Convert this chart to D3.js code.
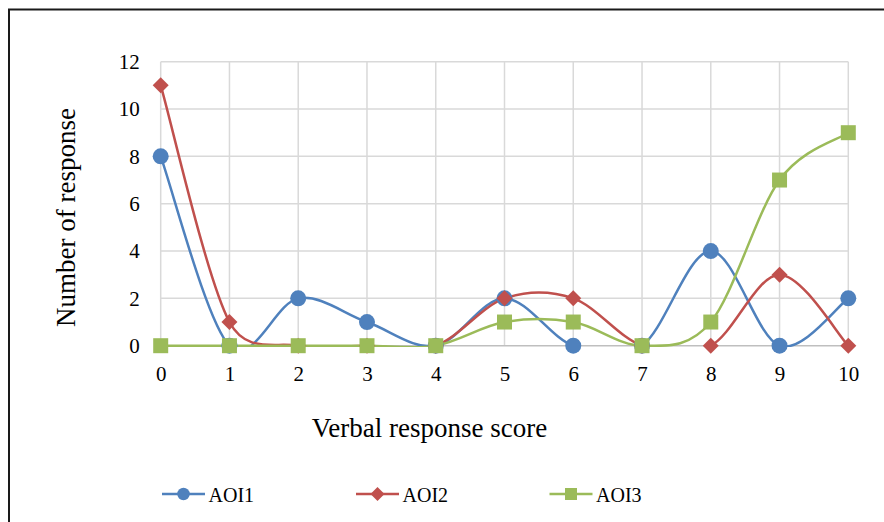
<!DOCTYPE html>
<html><head><meta charset="utf-8">
<script src="https://cdn.jsdelivr.net/npm/d3@7"></script>
<style>body{margin:0;background:#fff}svg{display:block}</style>
</head><body><svg id="c" width="884" height="522"></svg>
<script>
const categories = [0,1,2,3,4,5,6,7,8,9,10];
const aoi1 = [8,0,2,1,0,2,0,0,4,0,2];
const aoi2 = [11,1,0,0,0,2,2,0,0,3,0];
const aoi3 = [0,0,0,0,0,1,1,0,1,7,9];
const yTicks = [0,2,4,6,8,10,12];
const seriesNames = ["AOI1","AOI2","AOI3"];
const colors = ["#4f81bd","#c0504d","#9bbb59"];

const FONT = "'Liberation Serif','Times New Roman',Tinos,'DejaVu Serif',serif";

// Excel-style smoothed curve (Bezier with clamped control arms)
function excelCurve(context){
  let pts = [];
  return {
    areaStart(){}, areaEnd(){},
    lineStart(){ pts = []; },
    point(x,y){ pts.push([+x,+y]); },
    lineEnd(){
      const n = pts.length; if(!n) return;
      const dist=(a,b)=>Math.hypot(a[0]-b[0],a[1]-b[1]);
      context.moveTo(pts[0][0],pts[0][1]);
      for(let i=0;i<n-1;i++){
        const p0=pts[Math.max(0,i-1)], p1=pts[i], p2=pts[i+1], p3=pts[Math.min(n-1,i+2)];
        const d12=dist(p1,p2), d02=dist(p0,p2), d13=dist(p1,p3);
        const f0 = (d02/6 < d12/2) ? 1/6 : (d02>0 ? d12/(2*d02) : 0);
        const f3 = (d13/6 < d12/2) ? 1/6 : (d13>0 ? d12/(2*d13) : 0);
        const c1=[p1[0]+(p2[0]-p0[0])*f0, p1[1]+(p2[1]-p0[1])*f0];
        const c2=[p2[0]-(p3[0]-p1[0])*f3, p2[1]-(p3[1]-p1[1])*f3];
        context.bezierCurveTo(c1[0],c1[1],c2[0],c2[1],p2[0],p2[1]);
      }
    }
  };
}
// Excel-style diamond (square rotated 45deg), size = full diagonal^2
const diamondSym = { draw(ctx,size){ const r=Math.sqrt(size)/2; ctx.moveTo(0,-r); ctx.lineTo(r,0); ctx.lineTo(0,r); ctx.lineTo(-r,0); ctx.closePath(); } };
const squareSym = { draw(ctx,size){ const r=Math.sqrt(size)/2; ctx.rect(-r,-r,2*r,2*r); } };
const circleSym = { draw(ctx,size){ const r=Math.sqrt(size)/2; ctx.moveTo(r,0); ctx.arc(0,0,r,0,2*Math.PI); } };
const symbols = [circleSym, diamondSym, squareSym];
const markerSizes = [16*16, 16*16, 15*15];
const legendSizes = [12.5*12.5, 14*14, 12*12];

const svg = d3.select("#c");
svg.append("rect").attr("x",9).attr("y",9.5).attr("width",900).attr("height",600)
  .attr("fill","none").attr("stroke","#1a1a1a").attr("stroke-width",2);

const x = d3.scaleLinear().domain([0,10]).range([160.7,848.3]);
const y = d3.scaleLinear().domain([0,12]).range([345.7,61.7]);

svg.append("clipPath").attr("id","plotclip").append("rect")
  .attr("x",x(0)-2).attr("y",y(12)).attr("width",x(10)-x(0)+4).attr("height",y(0)-y(12)+1.2);

const g = svg.append("g");
g.selectAll(".hg").data(yTicks.filter(d=>d>0)).join("line")
  .attr("x1",x(0)).attr("x2",x(10)).attr("y1",d=>y(d)).attr("y2",d=>y(d))
  .attr("stroke","#d9d9d9").attr("stroke-width",1.5);
g.selectAll(".vg").data(categories).join("line")
  .attr("x1",d=>x(d)).attr("x2",d=>x(d)).attr("y1",y(12)).attr("y2",y(0))
  .attr("stroke","#d9d9d9").attr("stroke-width",1.5);
g.append("line").attr("x1",x(0)).attr("x2",x(10)).attr("y1",y(0)).attr("y2",y(0))
  .attr("stroke","#bfbfbf").attr("stroke-width",1.5);

const xAxis = svg.append("g").attr("transform",`translate(0,${y(0)})`)
  .call(d3.axisBottom(x).tickValues(categories).tickSize(0).tickPadding(0).tickFormat(d3.format("d")));
xAxis.select(".domain").remove();
xAxis.selectAll("text").style("font-family",FONT).style("font-size","21px").attr("y",35).attr("dy",null).attr("fill","#000");
const yAxis = svg.append("g").attr("transform",`translate(${x(0)},0)`)
  .call(d3.axisLeft(y).tickValues(yTicks).tickSize(0).tickPadding(21).tickFormat(d3.format("d")));
yAxis.select(".domain").remove();
yAxis.selectAll("text").style("font-family",FONT).style("font-size","21px").attr("fill","#000");

svg.append("text").attr("x",429.5).attr("y",437).attr("text-anchor","middle")
  .style("font-family",FONT).style("font-size","27px").text("Verbal response score");
svg.append("text").attr("transform","translate(75,217.5) rotate(-90)").attr("text-anchor","middle")
  .style("font-family",FONT).style("font-size","27px").text("Number of response");

const all = [aoi1,aoi2,aoi3];
const line = d3.line().x((d,i)=>x(categories[i])).y(d=>y(d)).curve(excelCurve);
const lines = svg.append("g").attr("clip-path","url(#plotclip)");
all.forEach((vals,si)=>{
  lines.append("path").attr("d",line(vals)).attr("fill","none").attr("stroke",colors[si]).attr("stroke-width",2.5);
});
all.forEach((vals,si)=>{
  svg.append("g").selectAll("path").data(vals).join("path")
    .attr("transform",(d,i)=>`translate(${x(categories[i])},${y(d)})`)
    .attr("d",d3.symbol().type(symbols[si]).size(markerSizes[si])).attr("fill",colors[si]);
});

const legX = [162,356,549.5];
seriesNames.forEach((n,i)=>{
  const lg = svg.append("g").attr("transform",`translate(${legX[i]},494)`);
  lg.append("line").attr("x1",0).attr("x2",43).attr("stroke",colors[i]).attr("stroke-width",2.5);
  lg.append("path").attr("transform","translate(21.5,0)").attr("d",d3.symbol().type(symbols[i]).size(legendSizes[i])).attr("fill",colors[i]);
  lg.append("text").attr("x",46.5).attr("y",7.5).style("font-family",FONT).style("font-size","20px").text(n);
});
</script></body></html>
